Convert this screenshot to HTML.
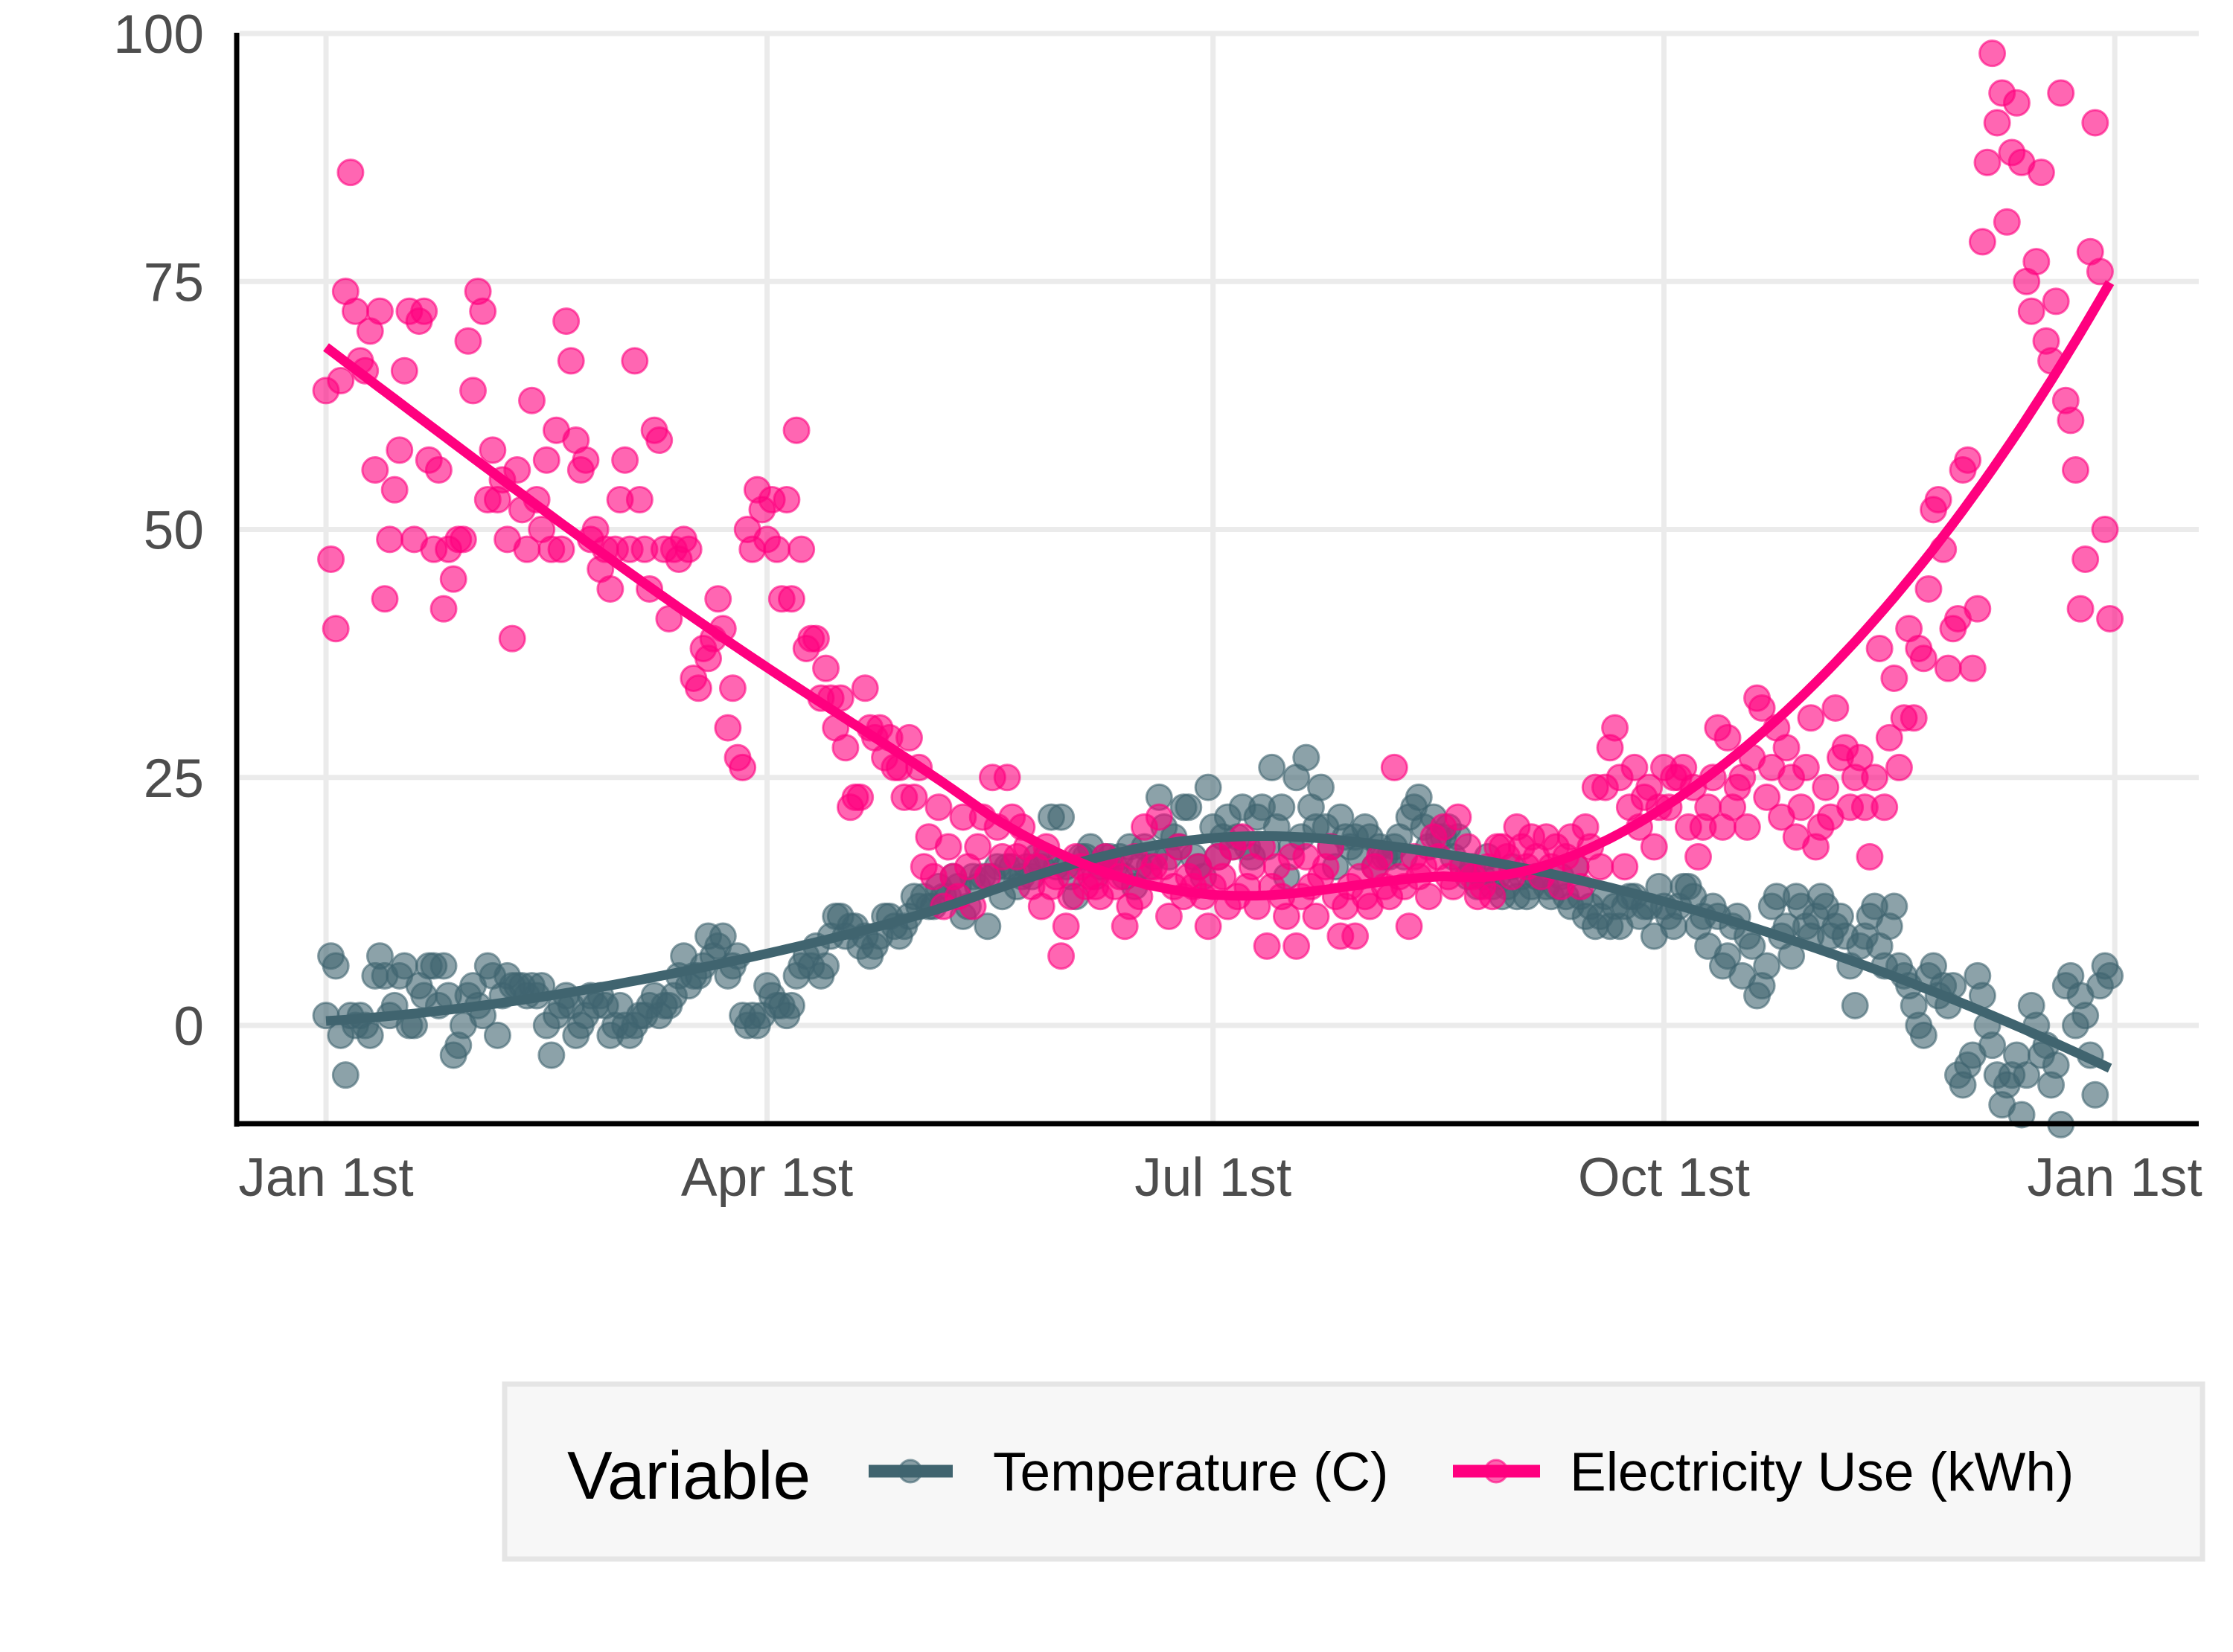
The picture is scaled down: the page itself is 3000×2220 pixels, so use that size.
<!DOCTYPE html>
<html><head><meta charset="utf-8"><style>
html,body{margin:0;padding:0;background:#fff;}
svg{display:block;font-family:"Liberation Sans",Arial,sans-serif;}
</style></head><body>
<svg id="chart" width="3000" height="2220" viewBox="0 0 3000 2220" xmlns="http://www.w3.org/2000/svg">
<g id="grid"></g>
<g id="tempPts"></g>
<g id="elecPts"></g>
<g id="lines"></g>
<g id="axes"></g>
<g id="legend">
  <rect x="678" y="1860" width="2281" height="235" fill="#f7f7f7" stroke="#e5e5e5" stroke-width="7"/>
  <text x="762" y="2014" font-size="91" fill="#000">Variable</text>
  <g>
    <line x1="1167" y1="1977" x2="1280" y2="1977" stroke="#40646f" stroke-width="17"/>
    <circle cx="1223" cy="1977" r="15" fill="#40646f" fill-opacity="0.6" stroke="#40646f" stroke-opacity="0.6" stroke-width="3"/>
    <text x="1334" y="2003" font-size="73" fill="#000">Temperature (C)</text>
  </g>
  <g>
    <line x1="1952" y1="1977" x2="2069" y2="1977" stroke="#ff007f" stroke-width="17"/>
    <circle cx="2010" cy="1977" r="15" fill="#ff007f" fill-opacity="0.6" stroke="#ff007f" stroke-opacity="0.6" stroke-width="3"/>
    <text x="2109" y="2003" font-size="73" fill="#000">Electricity Use (kWh)</text>
  </g>
</g>
</svg>
<script>
const yTicks = [0, 25, 50, 75, 100];
const xTickDays = [0, 90, 181, 273, 365];
const xTickLabels = ["Jan 1st", "Apr 1st", "Jul 1st", "Oct 1st", "Jan 1st"];
const temperature = [
1,7,6,-1,-5,1,0,1,0,-1, 5,7,5,1,2,5,6,0,0,4, 3,6,6,2,6,3,-3,-2,0,3, 4,2,1,6,5,-1,3,5,4,4,
4,3,4,3,4,0,-3,1,2,3, 2,-1,0,1,3,2,3,2,-1,0, 2,0,-1,0,1,1,2,3,1,2, 2,3,5,7,4,5,5,6,9,7,
8,9,5,6,7,1,0,1,0,1, 4,3,2,2,1,2,5,6,7,6, 8,5,6,9,11,11,9,10,10,8, 9,7,8,9,11,11,10,9,10,11,
13,12,13,12,12,14,13,13,15,14, 11,12,15,14,15,10,15,16,13,16, 16,14,15,16,15,17,16,17,21,16, 21,16,15,13,17,17,18,15,16,17,
17,16,17,15,18,14,16,18,16,17, 23,20,17,19,18,22,22,17,16,15, 24,20,17,19,21,18,19,22,18,17, 21,22,18,26,20,22,15,18,25,19,
27,22,20,24,20,18,16,21,19,18, 19,17,20,19,16,18,17,17,18,19, 17,21,22,23,20,18,21,19,19,20, 17,19,16,15,16,14,15,17,14,15,
13,14,16,13,15,13,14,15,15,14, 13,14,15,13,12,16,13,11,12,10, 11,13,10,12,10,12,13,13,11,12, 12,9,14,12,11,10,12,14,14,13,
10,11,8,12,11,6,7,10,11,5, 9,8,3,4,6,12,13,9,10,7, 13,12,10,9,11,13,12,9,10,11, 9,6,2,8,9,11,12,8,6,10,
12,6,5,4,2,0,-1,5,6,3, 4,2,4,-5,-6,-4,-3,5,3,0, -2,-5,-8,-6,-5,-3,-9,-5,2,0, -3,-2,-6,-4,-10,4,5,0,3,1,
-3,-7,4,6,5];
const electricity = [
64,47,40,65,74,86,72,67,66,70, 56,72,43,49,54,58,66,72,49,71, 72,57,48,56,42,48,45,49,49,69, 64,74,72,53,58,53,55,49,39,56,
52,48,63,53,50,57,48,60,48,71, 67,59,56,57,49,50,46,48,44,48, 53,57,48,67,53,48,44,60,59,48, 41,48,47,49,48,35,34,38,37,39,
43,40,30,34,27,26,50,48,54,52, 49,53,48,43,53,43,60,48,38,39, 39,33,36,33,30,33,28,22,23,23, 34,30,29,30,27,29,26,26,23,29,
23,26,16,19,15,22,12,18,15,13, 21,16,12,18,21,15,25,20,17,25, 21,17,20,18,14,16,12,18,14,15, 7,10,13,17,16,14,15,14,13,17,
16,14,15,10,12,17,13,20,15,16, 21,16,11,14,18,13,15,14,16,13, 10,14,17,15,12,18,13,19,14,16, 12,18,8,14,16,13,11,17,8,13,
17,14,11,15,16,18,13,9,12,14, 9,15,13,12,16,17,14,13,26,15, 14,10,17,15,16,13,19,17,20,15, 14,21,16,18,15,13,14,16,13,18,
18,17,15,20,18,16,19,17,15,19, 16,18,14,17,19,16,14,20,18,24, 16,24,28,30,25,16,22,26,20,23, 24,18,22,26,22,25,25,26,20,24,
17,20,22,25,30,20,29,22,24,25, 20,27,33,32,23,26,30,21,28,25, 19,22,26,31,18,20,24,21,32,27, 28,22,25,27,22,17,25,38,22,29,
35,26,31,40,31,38,37,44,52,53, 48,36,40,41,56,57,36,42,79,87, 98,91,94,81,88,93,87,75,72,77, 86,69,67,73,94,63,61,56,42,47,
78,91,76,50,41];

const NS = "http://www.w3.org/2000/svg";
const X0 = 438, PX_PER_DAY = 6.584, Y0 = 1378, PX_PER_UNIT = 13.33;
function xScale(d){ return X0 + d * PX_PER_DAY; }
function yScale(v){ return Y0 - v * PX_PER_UNIT; }
function mk(tag, attrs, parent){ const e = document.createElementNS(NS, tag); for (const k in attrs) e.setAttribute(k, attrs[k]); parent.appendChild(e); return e; }

const grid = document.getElementById('grid');
yTicks.forEach(t => {
  const l = mk('line', {x1: 322, x2: 2954, y1: yScale(t), y2: yScale(t), stroke: '#ebebeb', 'stroke-width': 7}, grid);
  
  
});
xTickDays.forEach(d => {
  const l = mk('line', {x1: xScale(d), x2: xScale(d), y1: 44, y2: 1507, stroke: '#ebebeb', 'stroke-width': 7}, grid);
  
  
});

function drawPoints(arr, g, color, name){
  arr.forEach((v, i) => {
    const c = mk('circle', {cx: xScale(i), cy: yScale(v), r: 17, fill: color, 'fill-opacity': 0.6, stroke: color, 'stroke-opacity': 0.6, 'stroke-width': 3}, g);
    
    
  });
}
drawPoints(temperature, document.getElementById('tempPts'), '#40646f', 'temperature-point');
drawPoints(electricity, document.getElementById('elecPts'), '#ff007f', 'electricity-point');

// loess: local quadratic, tricube weights, span 0.75
function loess(ys, span){
  const n = ys.length, q = Math.floor(span * n);
  return x0 => {
    const dists = ys.map((_, i) => Math.abs(i - x0)).sort((a, b) => a - b);
    const h = dists[q - 1] * (span > 1 ? span : 1) || 1;
    const S = new Array(5).fill(0), T = new Array(3).fill(0);
    for (let i = 0; i < n; i++){
      const u = Math.abs(i - x0) / h;
      if (u >= 1) continue;
      const w = Math.pow(1 - u * u * u, 3);
      const dx = (i - x0) / 100;
      let p = 1;
      for (let k = 0; k < 5; k++){ S[k] += w * p; if (k < 3) T[k] += w * p * ys[i]; p *= dx; }
    }
    const A = [[S[0], S[1], S[2], T[0]], [S[1], S[2], S[3], T[1]], [S[2], S[3], S[4], T[2]]];
    for (let c = 0; c < 3; c++){
      for (let r = 0; r < 3; r++){ if (r === c) continue; const f = A[r][c] / A[c][c]; for (let k = c; k < 4; k++) A[r][k] -= f * A[c][k]; }
    }
    return A[0][3] / A[0][0];
  };
}
const lines = document.getElementById('lines');
function drawTrend(arr, color, name){
  const f = loess(arr, 0.75);
  let d = '';
  for (let i = 0; i < arr.length; i += 2) d += (i ? 'L' : 'M') + xScale(i).toFixed(1) + ',' + yScale(f(i)).toFixed(1);
  const last = arr.length - 1;
  d += 'L' + xScale(last).toFixed(1) + ',' + yScale(f(last)).toFixed(1);
  const p = mk('path', {d: d, fill: 'none', stroke: color, 'stroke-width': 13}, lines);
  
  
}
drawTrend(temperature, '#40646f', 'temperature-trend-line');
drawTrend(electricity, '#ff007f', 'electricity-trend-line');

const axes = document.getElementById('axes');
const ya = mk('line', {x1: 318, x2: 318, y1: 44, y2: 1514, stroke: '#000', 'stroke-width': 7}, axes);


const xa = mk('line', {x1: 315, x2: 2954, y1: 1510, y2: 1510, stroke: '#000', 'stroke-width': 7}, axes);


yTicks.forEach(t => {
  const tx = mk('text', {x: 274, y: yScale(t) + 26, 'font-size': 73, fill: '#4d4d4d', 'text-anchor': 'end'}, axes);
  tx.textContent = String(t);
  
  
});
xTickDays.forEach((d, i) => {
  const tx = mk('text', {x: xScale(d), y: 1607, 'font-size': 73, fill: '#4d4d4d', 'text-anchor': 'middle'}, axes);
  tx.textContent = xTickLabels[i];
  
  
});
</script>
</body></html>
